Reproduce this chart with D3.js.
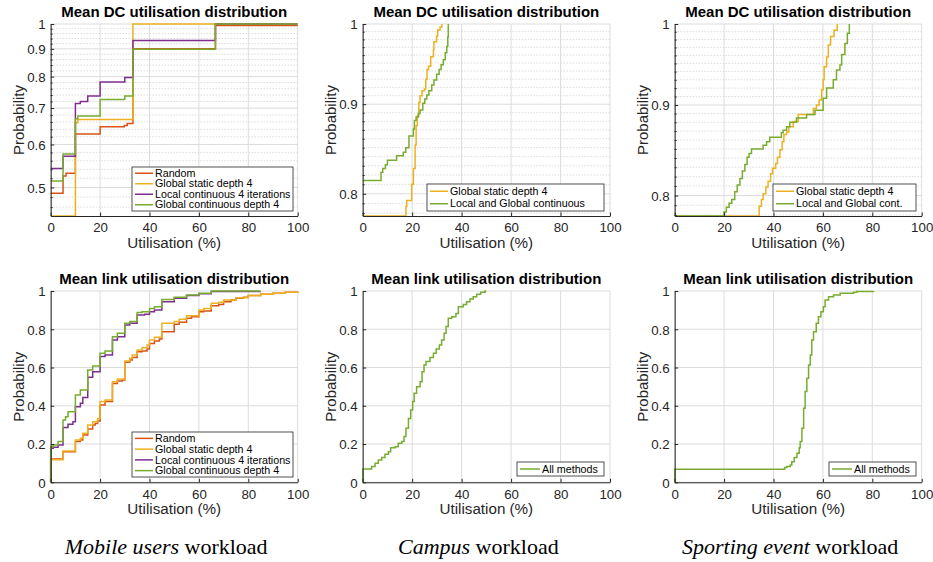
<!DOCTYPE html>
<html>
<head>
<meta charset="utf-8">
<script src="https://cdn.jsdelivr.net/npm/d3@7"></script>
<style>
  body { margin: 0; background: #fff; }
  svg { display: block; font-family: "Liberation Sans", Arial, Helvetica, sans-serif; }
</style>
</head>
<body>
<svg id="chart" width="933" height="562"></svg>
<script>
// ---- data: ECDF steps as [utilisation %, probability] ----
const methods4 = ['Random', 'Global static depth 4', 'Local continuous 4 iterations', 'Global continuous depth 4'];
const colors4  = ['#d95319', '#edb120', '#7e2f8e', '#77ac30'];
const xTicks = [0, 20, 40, 60, 80, 100];

// Mobile users, mean DC utilisation
const mobileDcRandom = [[0,0.488],[5,0.525],[6.2,0.531],[10,0.627],[20,0.647],[29.8,0.650],[31,0.656],[33.3,0.900],[66.7,0.994],[100,0.994]];
const mobileDcStatic = [[0,0.443],[10,0.658],[11,0.667],[33.3,1],[100,1]];
const mobileDcLocal  = [[0,0.542],[5,0.571],[10,0.714],[12,0.720],[15,0.737],[20,0.782],[30,0.797],[33.3,0.932],[66.7,1],[100,1]];
const mobileDcGlobal = [[0,0.514],[5,0.576],[10,0.669],[11,0.677],[20,0.726],[30,0.737],[33.3,0.898],[66.7,1],[100,1]];

// Campus, mean DC utilisation
const campusDcStatic = [[0,0.777],[17.5,0.787],[17.8,0.793],[19.8,0.810],[20.5,0.827],[21.2,0.853],[21.6,0.875],[22.1,0.886],
  [22.7,0.902],[23.2,0.910],[24,0.916],[25,0.918],[25.5,0.930],[26,0.942],[26.6,0.946],[27.5,0.958],[28.6,0.967],
  [28.8,0.977],[29.9,0.984],[30.3,0.992],[31.3,0.996],[32,1]];
const campusDcLG = [[0,0.814],[7.4,0.823],[8.1,0.827],[9.2,0.831],[10,0.836],[13.7,0.841],[16.4,0.845],[17.4,0.850],
  [18.7,0.863],[20.5,0.871],[20.9,0.881],[21.6,0.885],[22.5,0.889],[23.2,0.893],[24.3,0.901],[25.1,0.906],[25.9,0.911],
  [26.8,0.916],[27.9,0.923],[28.8,0.929],[29.9,0.936],[30.9,0.942],[31.7,0.948],[32.6,0.954],[33.4,0.963],[34,0.971],
  [34.4,0.983],[34.6,1]];

// Sporting event, mean DC utilisation
const sportDcStatic = [[0,0.779],[34.2,0.789],[35.1,0.796],[35.8,0.802],[36.9,0.809],[37.8,0.815],[38.8,0.823],[39.6,0.829],
  [40.9,0.834],[41.6,0.841],[42.6,0.849],[43.5,0.858],[44.2,0.866],[45.3,0.869],[46.2,0.875],[48,0.881],[50,0.889],
  [56.1,0.896],[57.4,0.900],[58.5,0.906],[59.5,0.918],[60.1,0.930],[60.5,0.946],[61.5,0.958],[62.2,0.973],[63.1,0.984],
  [64.5,0.992],[65.8,1]];
const sportDcLG = [[0,0.779],[19.9,0.783],[20.9,0.788],[22,0.792],[23.1,0.796],[24.3,0.804],[25.3,0.811],[26.4,0.818],
  [27.4,0.826],[28.4,0.833],[29.3,0.841],[30.1,0.845],[31.1,0.850],[35.8,0.854],[37.2,0.858],[38.5,0.863],[43.2,0.868],
  [43.9,0.871],[45.3,0.875],[46.6,0.880],[49.3,0.885],[53.4,0.889],[56.8,0.894],[60.1,0.908],[61.5,0.920],[64.2,0.930],
  [65.5,0.942],[66.9,0.948],[67.6,0.961],[68.9,0.975],[69.9,0.988],[70.7,1]];

// Mobile users, mean link utilisation
const mobileLinkRandom = [[0,0],[0,0.122],[5,0.160],[10,0.213],[12,0.221],[13,0.247],[15,0.279],[17,0.300],[18,0.308],[19,0.321],
  [20,0.404],[22,0.422],[25,0.517],[27,0.530],[29,0.535],[30,0.627],[32,0.639],[33,0.652],[35,0.683],[37,0.686],[39,0.697],
  [40,0.726],[42,0.739],[44,0.749],[45,0.787],[50,0.826],[52,0.836],[55,0.857],[57,0.866],[60,0.892],[62,0.895],[65,0.923],
  [68,0.930],[70,0.944],[73,0.953],[75,0.962],[78,0.967],[80,0.976],[85,0.983],[90,0.988],[95,0.993],[100,0.997]];
const mobileLinkStatic = [[0,0],[0,0.118],[5,0.164],[10,0.221],[12,0.230],[13,0.256],[15,0.300],[17,0.317],[19,0.334],[20,0.422],
  [22,0.430],[25,0.526],[27,0.540],[30,0.634],[32,0.648],[33,0.666],[35,0.692],[37,0.704],[39,0.718],[40,0.744],[42,0.758],
  [45,0.831],[50,0.840],[52,0.852],[55,0.871],[60,0.901],[62,0.909],[65,0.936],[68,0.941],[70,0.953],[75,0.965],[80,0.976],
  [85,0.983],[90,0.988],[95,0.993],[100,0.997]];
const mobileLinkLocal = [[0,0],[0,0.178],[1,0.183],[3,0.195],[5,0.286],[7,0.303],[9,0.317],[10,0.395],[12,0.413],[13,0.443],
  [15,0.549],[17,0.578],[20,0.657],[22,0.666],[25,0.744],[27,0.761],[30,0.822],[32,0.831],[35,0.875],[38,0.878],[40,0.892],
  [42,0.901],[45,0.944],[50,0.962],[55,0.976],[60,0.986],[65,0.997],[85,0.997]];
const mobileLinkGlobal = [[0,0],[0,0.186],[1,0.195],[3,0.213],[5,0.326],[6,0.343],[7,0.369],[10,0.456],[12,0.483],[15,0.587],
  [17,0.608],[20,0.674],[22,0.686],[25,0.761],[27,0.779],[30,0.831],[32,0.840],[35,0.887],[37,0.892],[40,0.909],[42,0.918],
  [45,0.956],[50,0.967],[55,0.979],[60,0.988],[65,1],[85,1]];

// Campus, mean link utilisation
const campusLinkAll = [[0,0],[0,0.070],[3.6,0.082],[5,0.099],[6.3,0.117],[7.7,0.129],[9,0.146],[10.4,0.160],[11.3,0.181],
  [13.1,0.186],[14.4,0.204],[15.8,0.213],[16.7,0.239],[17.5,0.282],[18.5,0.334],[19.4,0.378],[20.2,0.422],[20.8,0.465],
  [21.8,0.500],[23.2,0.526],[24,0.578],[24.8,0.613],[25.6,0.631],[27.2,0.652],[28.6,0.674],[29.7,0.697],[31,0.718],
  [31.9,0.744],[32.9,0.779],[33.7,0.814],[34.6,0.857],[36,0.866],[37.7,0.883],[38.7,0.918],[40.7,0.930],[42,0.944],
  [43.4,0.958],[44.7,0.970],[46.1,0.983],[47.7,0.993],[49.5,1],[50,1]];

// Sporting event, mean link utilisation
const sportLinkAll = [[0,0],[0,0.068],[44.5,0.077],[45.4,0.082],[46.8,0.091],[47.4,0.108],[48.4,0.129],[49.5,0.152],
  [50.4,0.181],[50.8,0.213],[51.5,0.282],[52.2,0.387],[52.8,0.474],[53.5,0.544],[54.2,0.613],[54.9,0.666],[55.5,0.744],
  [56.2,0.787],[57.3,0.831],[58.2,0.866],[59.2,0.892],[60.2,0.918],[60.9,0.953],[62.3,0.970],[64.3,0.979],[67,0.988],
  [72.4,0.993],[73.7,0.997],[80.5,1]];

const captions = [['Mobile users', ' workload'], ['Campus', ' workload'], ['Sporting event', ' workload']];

// ---- layout ----
const svg = d3.select('#chart');
const cols = [[50.7, 297.7], [362.7, 610], [674.7, 921.7]];
const rowTop = [24, 291], rowBot = [216, 482.3];

const panels = [
  { col: 0, row: 0, title: 'Mean DC utilisation distribution', log: true, yDomain: [0.443, 1],
    yTicks: [0.5, 0.6, 0.7, 0.8, 0.9, 1], minorStep: 0.02,
    series: [mobileDcRandom, mobileDcStatic, mobileDcLocal, mobileDcGlobal], colors: colors4, names: methods4,
    legend: [132, 167, 293, 211] },
  { col: 1, row: 0, title: 'Mean DC utilisation distribution', log: true, yDomain: [0.777, 1],
    yTicks: [0.8, 0.9, 1], minorStep: 0.01,
    series: [campusDcStatic, campusDcLG], colors: ['#edb120', '#77ac30'],
    names: ['Global static depth 4', 'Local and Global continuous'], legend: [427, 184, 604, 211] },
  { col: 2, row: 0, title: 'Mean DC utilisation distribution', log: true, yDomain: [0.779, 1],
    yTicks: [0.8, 0.9, 1], minorStep: 0.01,
    series: [sportDcStatic, sportDcLG], colors: ['#edb120', '#77ac30'],
    names: ['Global static depth 4', 'Local and Global cont.'], legend: [773, 184, 916, 211] },
  { col: 0, row: 1, title: 'Mean link utilisation distribution', log: false, yDomain: [0, 1],
    yTicks: [0, 0.2, 0.4, 0.6, 0.8, 1],
    series: [mobileLinkRandom, mobileLinkStatic, mobileLinkLocal, mobileLinkGlobal], colors: colors4, names: methods4,
    legend: [132, 432, 293, 477] },
  { col: 1, row: 1, title: 'Mean link utilisation distribution', log: false, yDomain: [0, 1],
    yTicks: [0, 0.2, 0.4, 0.6, 0.8, 1],
    series: [campusLinkAll], colors: ['#77ac30'], names: ['All methods'], legend: [517, 462, 604, 476] },
  { col: 2, row: 1, title: 'Mean link utilisation distribution', log: false, yDomain: [0, 1],
    yTicks: [0, 0.2, 0.4, 0.6, 0.8, 1],
    series: [sportLinkAll], colors: ['#77ac30'], names: ['All methods'], legend: [829, 462, 916, 476] }
];

const fmtTick = v => (v === 0 || v === 1) ? String(v) : d3.format('.1f')(v);

panels.forEach((p, i) => {
  const [left, right] = cols[p.col];
  const top = rowTop[p.row], bottom = rowBot[p.row];
  const g = svg.append('g').attr('class', 'panel');

  const x = d3.scaleLinear().domain([0, 100]).range([left, right]);
  const y = (p.log ? d3.scaleLog() : d3.scaleLinear()).domain(p.yDomain).range([bottom, top]);

  // minor grid (log panels only)
  let minor = [];
  if (p.minorStep) {
    minor = d3.range(Math.ceil(p.yDomain[0] / p.minorStep) * p.minorStep, 1, p.minorStep)
      .map(v => +v.toFixed(3))
      .filter(v => v > p.yDomain[0] && !p.yTicks.some(t => Math.abs(t - v) < 1e-6));
    g.append('g').selectAll('line').data(minor).join('line')
      .attr('x1', left).attr('x2', right)
      .attr('y1', d => y(d)).attr('y2', d => y(d))
      .attr('stroke', '#bdbdbd').attr('stroke-width', 0.8).attr('stroke-dasharray', '1,2');
  }

  // major grid
  g.append('g').selectAll('line').data(xTicks).join('line')
    .attr('x1', d => x(d)).attr('x2', d => x(d)).attr('y1', top).attr('y2', bottom)
    .attr('stroke', '#dcdcdc').attr('stroke-width', 1);
  g.append('g').selectAll('line').data(p.yTicks).join('line')
    .attr('x1', left).attr('x2', right).attr('y1', d => y(d)).attr('y2', d => y(d))
    .attr('stroke', '#dcdcdc').attr('stroke-width', 1);

  // series
  const clipId = 'clip' + i;
  svg.append('clipPath').attr('id', clipId).append('rect')
    .attr('x', left - 2).attr('y', top - 2).attr('width', right - left + 4).attr('height', bottom - top + 2);

  const line = d3.line()
    .curve(d3.curveStepAfter)
    .x(d => x(d[0]))
    .y(d => y(Math.max(d[1], p.log ? p.yDomain[0] : 0)));

  g.append('g').attr('clip-path', `url(#${clipId})`)
    .selectAll('path').data(p.series).join('path')
    .attr('fill', 'none')
    .attr('stroke', (d, k) => p.colors[k])
    .attr('stroke-width', 1.5)
    .attr('d', line);

  // axes
  const yAxis = d3.axisLeft(y).tickValues(p.yTicks).tickFormat(fmtTick)
    .tickSizeInner(-3.5).tickSizeOuter(0).tickPadding(5);
  const yG = g.append('g').attr('transform', `translate(${left},0)`).call(yAxis);
  if (minor.length) {
    g.append('g').attr('transform', `translate(${left},0)`)
      .call(d3.axisLeft(y).tickValues(minor).tickFormat('').tickSizeInner(-2).tickSizeOuter(0))
      .call(a => a.select('.domain').remove())
      .selectAll('line').attr('stroke', '#262626');
  }
  const xG = g.append('g').attr('transform', `translate(0,${bottom})`)
    .call(d3.axisBottom(x).tickValues(xTicks).tickSizeInner(-3.5).tickSizeOuter(0).tickPadding(7));

  [yG, xG].forEach(a => {
    a.select('.domain').attr('stroke', '#262626').attr('stroke-width', 1);
    a.selectAll('.tick line').attr('stroke', '#262626');
    a.selectAll('.tick text').attr('fill', '#262626').style('font-size', '13.3px');
  });
  yG.selectAll('.tick text').attr('dy', '0.36em');

  // titles and labels
  g.append('text')
    .attr('x', (left + right) / 2).attr('y', top - 7)
    .attr('text-anchor', 'middle')
    .style('font-size', '15px').style('font-weight', 'bold')
    .attr('fill', '#000')
    .text(p.title);

  g.append('text')
    .attr('x', (left + right) / 2).attr('y', bottom + 32)
    .attr('text-anchor', 'middle')
    .style('font-size', '15.2px')
    .attr('fill', '#262626')
    .text('Utilisation (%)');

  const ly = (top + bottom) / 2;
  g.append('text')
    .attr('transform', `translate(${left - 27},${ly}) rotate(-90)`)
    .attr('text-anchor', 'middle')
    .style('font-size', '15px')
    .attr('fill', '#262626')
    .text('Probability');

  // legend
  const [bx0, by0, bx1, by1] = p.legend;
  const lg = g.append('g');
  lg.append('rect')
    .attr('x', bx0).attr('y', by0).attr('width', bx1 - bx0).attr('height', by1 - by0)
    .attr('fill', '#fff').attr('stroke', '#262626').attr('stroke-width', 0.8);
  const n = p.names.length;
  const rowH = (by1 - by0 - 2) / n;
  const sampleW = p.names[0] === 'All methods' ? 20 : 18;
  p.names.forEach((name, k) => {
    const cy = by0 + 1 + rowH * (k + 0.5);
    lg.append('line')
      .attr('x1', bx0 + 3).attr('x2', bx0 + 3 + sampleW)
      .attr('y1', cy).attr('y2', cy)
      .attr('stroke', p.colors[k]).attr('stroke-width', 1.5);
    lg.append('text')
      .attr('x', bx0 + 5 + sampleW).attr('y', cy).attr('dy', '0.35em')
      .style('font-size', '10.7px').attr('fill', '#000')
      .text(name);
  });
});

// captions under each column
captions.forEach((c, k) => {
  const [left, right] = cols[k];
  const t = svg.append('text')
    .attr('x', (left + right) / 2 - 8).attr('y', 554)
    .attr('text-anchor', 'middle')
    .style('font-family', '"Liberation Serif", "Times New Roman", Times, serif')
    .style('font-size', '22px')
    .attr('fill', '#000');
  t.append('tspan').style('font-style', 'italic').text(c[0]);
  t.append('tspan').text(c[1]);
});
</script>
</body>
</html>
